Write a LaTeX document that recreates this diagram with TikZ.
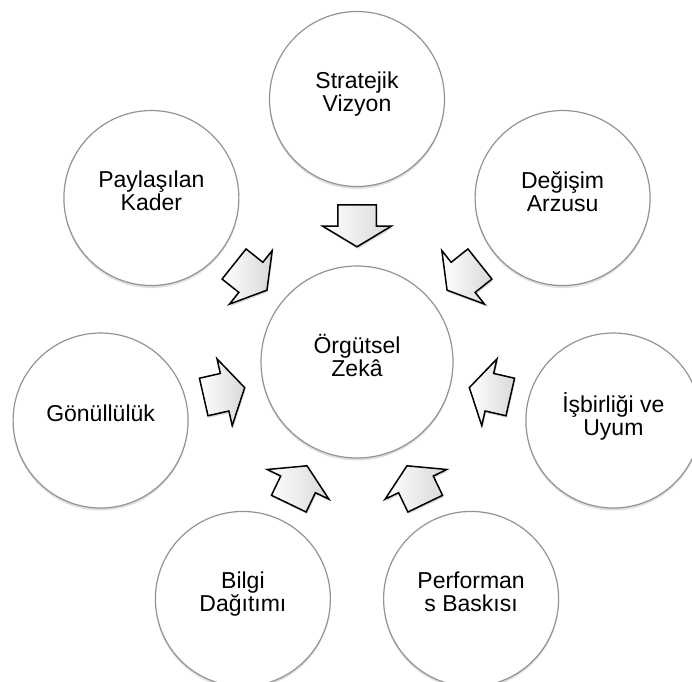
\documentclass[tikz,border=0pt]{standalone}
\usepackage{fontspec}
\setmainfont{Liberation Sans}
\usetikzlibrary{shapes.arrows,shadows}

\begin{document}
\begin{tikzpicture}[x=1pt,y=1pt,
    bubble/.style={circle, draw=gray!85, line width=1.2pt, fill=white,
      minimum size=175pt, inner sep=0pt, align=center, text depth=14pt,
      font=\fontsize{23}{23}\selectfont,
      drop shadow={opacity=0.25, shadow xshift=0pt, shadow yshift=-2.5pt}},
    core/.style={bubble, minimum size=192pt},
    inarrow/.style={single arrow, draw=black, line width=1.5pt,
      left color=white, right color=gray!30,
      minimum height=42pt, minimum width=67pt, inner xsep=0pt, inner ysep=18.5pt,
      single arrow head extend=15pt, single arrow tip angle=118,
      drop shadow={opacity=0.3, shadow xshift=1pt, shadow yshift=-2pt}}]
  \def\R{263} % centre to outer circles
  \def\d{142} % centre to arrows

  \clip (-357,-319) rectangle (335,362);
  \useasboundingbox (-357,-319) rectangle (335,362);

  % Centre circle
  \node[core] (zeka) at (0,0) {Örgütsel\\Zekâ};

  % Outer circles, counter-clockwise from the top
  \foreach \lbl [count=\i from 0] in {{Stratejik\\Vizyon}, {Paylaşılan\\Kader},
      {Gönüllülük}, {Bilgi\\Dağıtımı}, {Performan\\s Baskısı},
      {İşbirliği ve\\Uyum}, {Değişim\\Arzusu}} {
    \pgfmathsetmacro{\ang}{90+\i*360/7}
    \node[bubble] (c\i) at (\ang:\R) {\lbl};
  }

  % Arrows into the centre
  \foreach \i in {0,...,6} {
    \pgfmathsetmacro{\ang}{90+\i*360/7}
    \pgfmathsetmacro{\rot}{\ang+180}
    \node[inarrow, rotate=\rot] (a\i) at (\ang:\d) {};
  }
\end{tikzpicture}
\end{document}
